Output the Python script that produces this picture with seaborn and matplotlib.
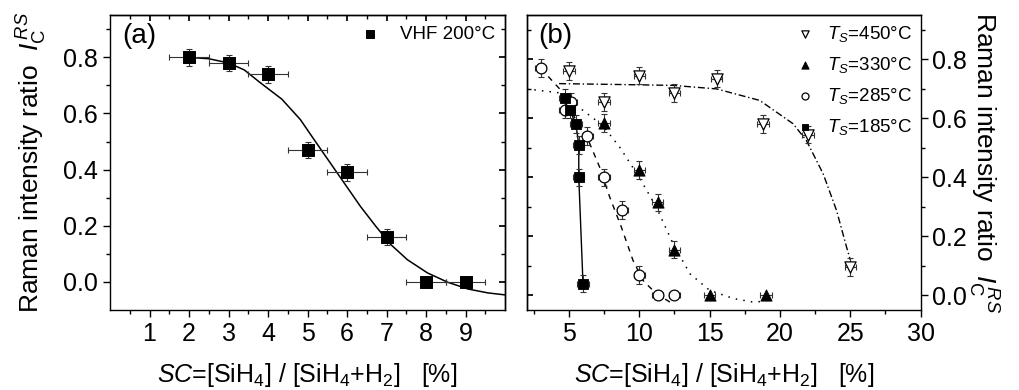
import numpy as np
import pandas as pd
import matplotlib
matplotlib.use("Agg")
import matplotlib.pyplot as plt
import seaborn as sns

#%% data, panel (a)
sc_a = [2, 3, 4, 5, 6, 7, 8, 9]
ic_a = [0.80, 0.78, 0.74, 0.47, 0.39, 0.16, 0.0, 0.0]
xerr_a = [0.5] * 8
yerr_a = [0.03, 0.03, 0.03, 0.03, 0.03, 0.03, 0.0, 0.0]

# fit curve
fit_a_x = [2.0, 2.5, 3.0, 3.4, 3.8, 4.35, 4.82, 5.2, 5.58, 5.96, 6.34, 6.73, 7.11, 7.53, 8.04, 8.55, 9.06, 9.57, 10.0]
fit_a_y = [0.80, 0.795, 0.78, 0.755, 0.71, 0.651, 0.578, 0.50, 0.423, 0.346, 0.269, 0.198, 0.133, 0.079, 0.032, -0.001, -0.025, -0.039, -0.046]

#%% data, panel (b)
sc_450 = [5.0, 7.5, 10.0, 12.5, 15.5, 18.8, 22.0, 25.0]
ic_450 = [0.76, 0.655, 0.745, 0.685, 0.735, 0.58, 0.545, 0.095]
yerr_450 = [0.03] * 8

sc_330 = [7.5, 10.0, 11.3, 12.5, 15.0, 19.0]
ic_330 = [0.585, 0.425, 0.315, 0.155, 0.0, 0.0]
yerr_330 = [0.03, 0.03, 0.03, 0.03, 0.0, 0.0]

sc_285 = [3.0, 4.7, 5.15, 6.3, 7.5, 8.8, 10.0, 11.3, 12.5]
ic_285 = [0.77, 0.63, 0.655, 0.54, 0.40, 0.29, 0.07, 0.0, 0.0]
yerr_285 = [0.03, 0.03, 0.03, 0.03, 0.03, 0.03, 0.03, 0.0, 0.0]

sc_185 = [4.7, 5.05, 5.5, 5.7, 5.7, 6.0]
ic_185 = [0.67, 0.63, 0.58, 0.51, 0.40, 0.04]
yerr_185 = [0.03] * 6

# guide curves
fit_450_x = [4.3, 9.9, 12.4, 15.5, 18.56, 20.93, 21.88, 23.07, 24.02, 24.73, 25.0]
fit_450_y = [0.718, 0.714, 0.712, 0.70, 0.661, 0.582, 0.525, 0.412, 0.288, 0.164, 0.12]
fit_330_x = [2.0, 4.45, 6.0, 7.4, 8.6, 10.0, 11.2, 12.4, 13.6, 15.0, 16.7, 18.1, 19.0]
fit_330_y = [0.70, 0.686, 0.627, 0.576, 0.503, 0.40, 0.30, 0.175, 0.073, 0.017, -0.011, -0.023, -0.02]
fit_285_x = [3.0, 4.34, 5.52, 6.28, 7.18, 7.9, 8.72, 9.55, 10.27, 11.2, 12.35]
fit_285_y = [0.77, 0.70, 0.593, 0.537, 0.435, 0.333, 0.232, 0.119, 0.05, 0.006, -0.028]

#%% style
sns.set_theme(style="white")
plt.rcParams['font.family'] = ['Liberation Sans', 'DejaVu Sans']
plt.rcParams['mathtext.fontset'] = 'custom'
plt.rcParams['mathtext.rm'] = 'Liberation Sans'
plt.rcParams['mathtext.it'] = 'Liberation Sans:italic'
for k in ['text.color', 'axes.labelcolor', 'xtick.color', 'ytick.color', 'axes.edgecolor']:
    plt.rcParams[k] = 'black'
plt.rcParams['axes.linewidth'] = 1.0

fig = plt.figure(figsize=(10.19, 3.9), dpi=100)
ax1 = fig.add_axes([0.108, 0.205, 0.3876, 0.756])
ax2 = fig.add_axes([0.5169, 0.205, 0.3866, 0.756])

ylab = r"Raman intensity ratio  $I_{\mathrm{C}}^{\,RS}$"
xlab = r"$SC$=[SiH$_4$] / [SiH$_4$+H$_2$]   [%]"
ebkw = dict(fmt='none', ecolor='#333333', elinewidth=0.8, capsize=2.5, capthick=0.8, zorder=2)
TICK = 18

#%% panel (a)
ax1.errorbar(sc_a, ic_a, xerr=xerr_a, yerr=yerr_a, **ebkw)
sns.lineplot(x=fit_a_x, y=fit_a_y, ax=ax1, color='black', lw=1.1, sort=False, estimator=None, zorder=1)
sns.scatterplot(x=sc_a, y=ic_a, ax=ax1, marker='s', s=75, color='black', edgecolor='black',
                label='VHF 200°C', zorder=3)
ax1.set_xlim(0, 10)
ax1.set_ylim(-0.1, 0.95)
ax1.set_xticks(range(1, 10))
ax1.set_xticks(np.arange(0.5, 10, 0.5), minor=True)
ax1.set_yticks([0.0, 0.2, 0.4, 0.6, 0.8])
ax1.set_yticks(np.arange(0.1, 0.95, 0.2), minor=True)
ax1.yaxis.set_major_formatter(matplotlib.ticker.FormatStrFormatter('%.1f'))
ax1.tick_params(which='both', direction='out', labelsize=TICK, left=True, bottom=True)
ax1.tick_params(which='major', length=5, width=1)
ax1.tick_params(which='minor', length=3, width=1)
ax1.set_xlabel(xlab, fontsize=18, labelpad=11)
ax1.set_ylabel(ylab, fontsize=19, labelpad=10)
ax1.text(0.03, 0.975, '(a)', transform=ax1.transAxes, fontsize=20, va='top', ha='left')
ax1.legend(loc='upper right', frameon=False, fontsize=13.5, handletextpad=0.6,
           borderaxespad=0.15, markerscale=0.7)

# mirrored inward ticks on top/right
for a in (ax1, ax2):
    top = a.secondary_xaxis('top')
    top.set_xticks(a.get_xticks(minor=True), minor=True)
    top.set_xticks(a.get_xticks())
    top.tick_params(which='both', direction='in', labeltop=False)
    top.tick_params(which='major', length=4)
    top.tick_params(which='minor', length=3)

side1 = ax1.secondary_yaxis('right')
side1.set_yticks([0.0, 0.2, 0.4, 0.6, 0.8])
side1.set_yticks(np.arange(0.1, 0.95, 0.2), minor=True)
side1.tick_params(which='both', direction='in', labelright=False)
side1.tick_params(which='major', length=4)
side1.tick_params(which='minor', length=3)

#%% panel (b)
ax2.errorbar(sc_450, ic_450, xerr=0.4, yerr=yerr_450, **ebkw)
ax2.errorbar(sc_330, ic_330, xerr=0.4, yerr=yerr_330, **ebkw)
ax2.errorbar(sc_285, ic_285, xerr=0.4, yerr=yerr_285, **ebkw)
ax2.errorbar(sc_185, ic_185, xerr=0.4, yerr=yerr_185, **ebkw)

ax2.plot(fit_450_x, fit_450_y, color='black', lw=1.0, dashes=[5, 2, 1, 2], zorder=1)
ax2.plot(fit_330_x, fit_330_y, color='black', lw=1.1, dashes=[1, 4], zorder=1)
ax2.plot(fit_285_x, fit_285_y, color='black', lw=1.0, dashes=[4, 4], zorder=1)
sns.lineplot(x=sc_185, y=ic_185, ax=ax2, color='black', lw=1.0, sort=False, estimator=None, zorder=1)

sns.scatterplot(x=sc_450, y=ic_450, ax=ax2, marker='v', s=65, facecolor='white', edgecolor='black',
                linewidth=0.9, label=r'$T_S$=450°C', zorder=3)
sns.scatterplot(x=sc_330, y=ic_330, ax=ax2, marker='^', s=65, color='black', edgecolor='black',
                label=r'$T_S$=330°C', zorder=3)
sns.scatterplot(x=sc_285, y=ic_285, ax=ax2, marker='o', s=60, facecolor='white', edgecolor='black',
                linewidth=0.9, label=r'$T_S$=285°C', zorder=3)
sns.scatterplot(x=sc_185, y=ic_185, ax=ax2, marker='s', s=60, color='black', edgecolor='black',
                label=r'$T_S$=185°C', zorder=4)

ax2.set_xlim(2, 30)
ax2.set_ylim(-0.05, 0.95)
ax2.set_xticks([5, 10, 15, 20, 25, 30])
ax2.set_xticks(np.arange(2.5, 30, 2.5), minor=True)
ax2.set_yticks([0.0, 0.2, 0.4, 0.6, 0.8])
ax2.set_yticks(np.arange(0.1, 0.95, 0.2), minor=True)
ax2.yaxis.set_major_formatter(matplotlib.ticker.FormatStrFormatter('%.1f'))
ax2.yaxis.tick_right()
ax2.yaxis.set_label_position('right')
ax2.tick_params(which='both', direction='out', labelsize=TICK, right=True, bottom=True, left=False)
ax2.tick_params(which='major', length=5, width=1)
ax2.tick_params(which='minor', length=3, width=1)
ax2.set_xlabel(xlab, fontsize=18, labelpad=11)
ax2.set_ylabel(ylab, fontsize=19, rotation=-90, labelpad=24)
ax2.text(0.03, 0.975, '(b)', transform=ax2.transAxes, fontsize=20, va='top', ha='left')

side2 = ax2.secondary_yaxis('left')
side2.set_yticks([0.0, 0.2, 0.4, 0.6, 0.8])
side2.set_yticks(np.arange(0.1, 0.95, 0.2), minor=True)
side2.tick_params(which='both', direction='in', labelleft=False)
side2.tick_params(which='major', length=4)
side2.tick_params(which='minor', length=3)

ax2.legend(loc='upper right', frameon=False, fontsize=13.5, handletextpad=0.15,
           borderaxespad=0.05, labelspacing=0.6, markerscale=0.65)

fig.savefig("out.png", dpi=100)
